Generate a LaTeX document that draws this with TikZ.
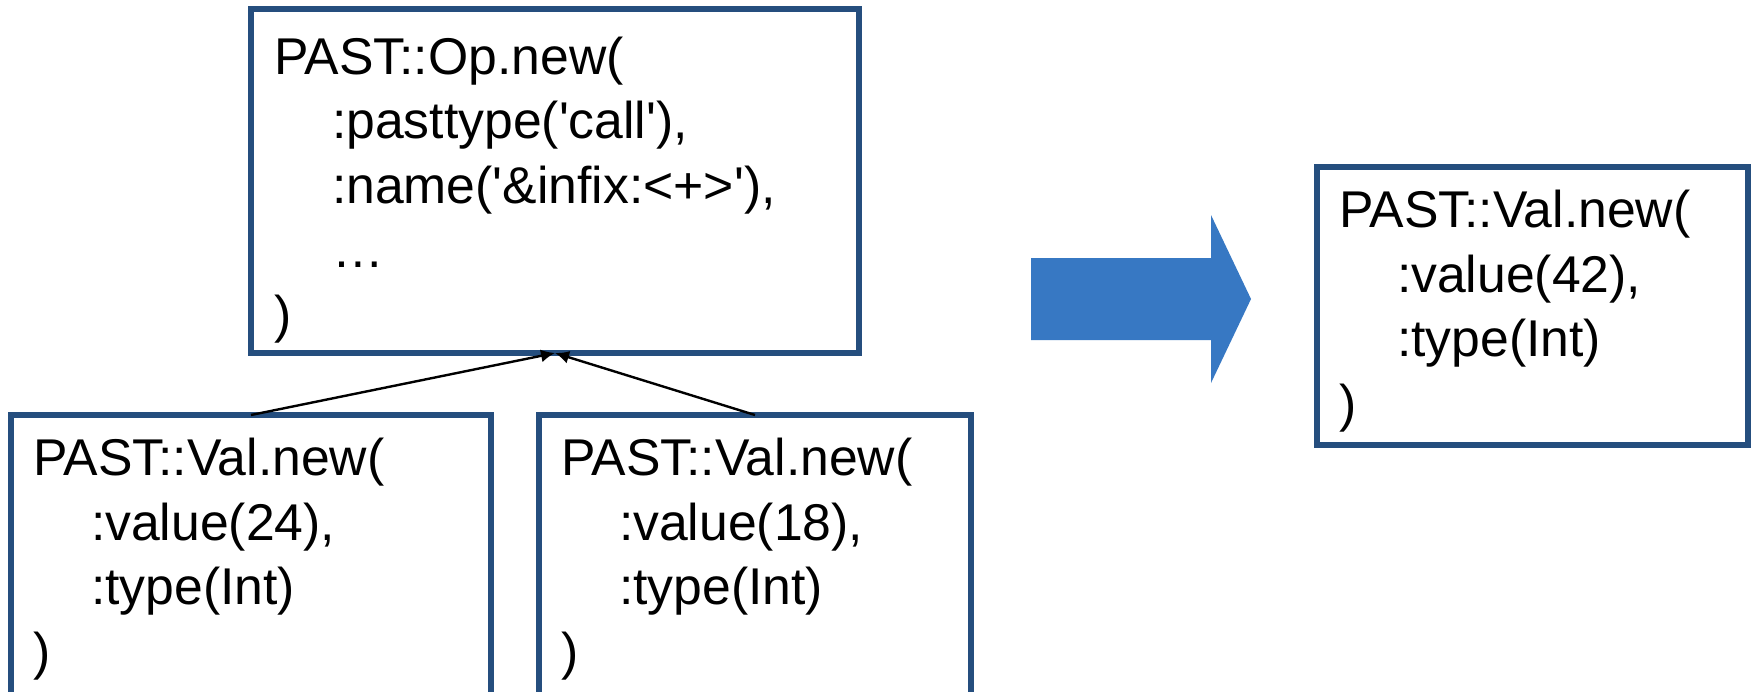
\documentclass[tikz,border=0pt]{standalone}
\usepackage{fontspec}
\setmainfont{Liberation Sans}
\usetikzlibrary{arrows.meta,calc}
\definecolor{boxblue}{RGB}{37,78,126}
\definecolor{arrowblue}{RGB}{55,120,195}
\tikzset{
  codebox/.style={draw=boxblue, line width=3pt, fill=white, rectangle, outer sep=0pt, inner sep=0pt, anchor=north west},
  codetext/.style={font=\fontsize{25.85pt}{32.2pt}\selectfont, align=left, inner sep=0pt, outer sep=0pt, anchor=base west},
  conn/.style={draw=black, line width=1.2pt, -{Latex[length=7pt,width=6.5pt]}},
}
\newcommand{\ind}{\hspace*{29pt}}
\newcommand{\sq}{\textquotesingle}
\begin{document}
\begin{tikzpicture}[x=0.5pt,y=-0.5pt]
\useasboundingbox (0,0) rectangle (1754,691);
\clip (0,0) rectangle (1754,691);
% boxes
\node[codebox, minimum width=304pt, minimum height=172pt] (op) at (251,9) {};
\node[codebox, minimum width=240pt, minimum height=155pt] (va) at (11,415) {};
\node[codebox, minimum width=216pt, minimum height=155pt] (vb) at (539,415) {};
\node[codebox, minimum width=215.5pt, minimum height=139pt] (vr) at (1317,167) {};
% texts (anchored at the baseline of the last line)
\node[codetext] (top) at ($(op.north west)+(23,323)$) {PAST::Op.new(\\\ind:pasttype(\sq call\sq),\\\ind:name(\sq\&infix:<+>\sq),\\\ind…\\)};
\node[codetext] (ta) at ($(va.north west)+(22,254)$) {PAST::Val.new(\\\ind:value(24),\\\ind:type(Int)\\)};
\node[codetext] (tb) at ($(vb.north west)+(22,254)$) {PAST::Val.new(\\\ind:value(18),\\\ind:type(Int)\\)};
\node[codetext] (tr) at ($(vr.north west)+(22,254)$) {PAST::Val.new(\\\ind:value(42),\\\ind:type(Int)\\)};
% connectors
\draw[conn] (va.north) -- (op.south);
\draw[conn] (vb.north) -- (op.south);
% big arrow
\fill[arrowblue] (1031,258) -- (1211,258) -- (1211,215) -- (1251,299) -- (1211,383) -- (1211,340) -- (1031,340) -- cycle;
\end{tikzpicture}
\end{document}
